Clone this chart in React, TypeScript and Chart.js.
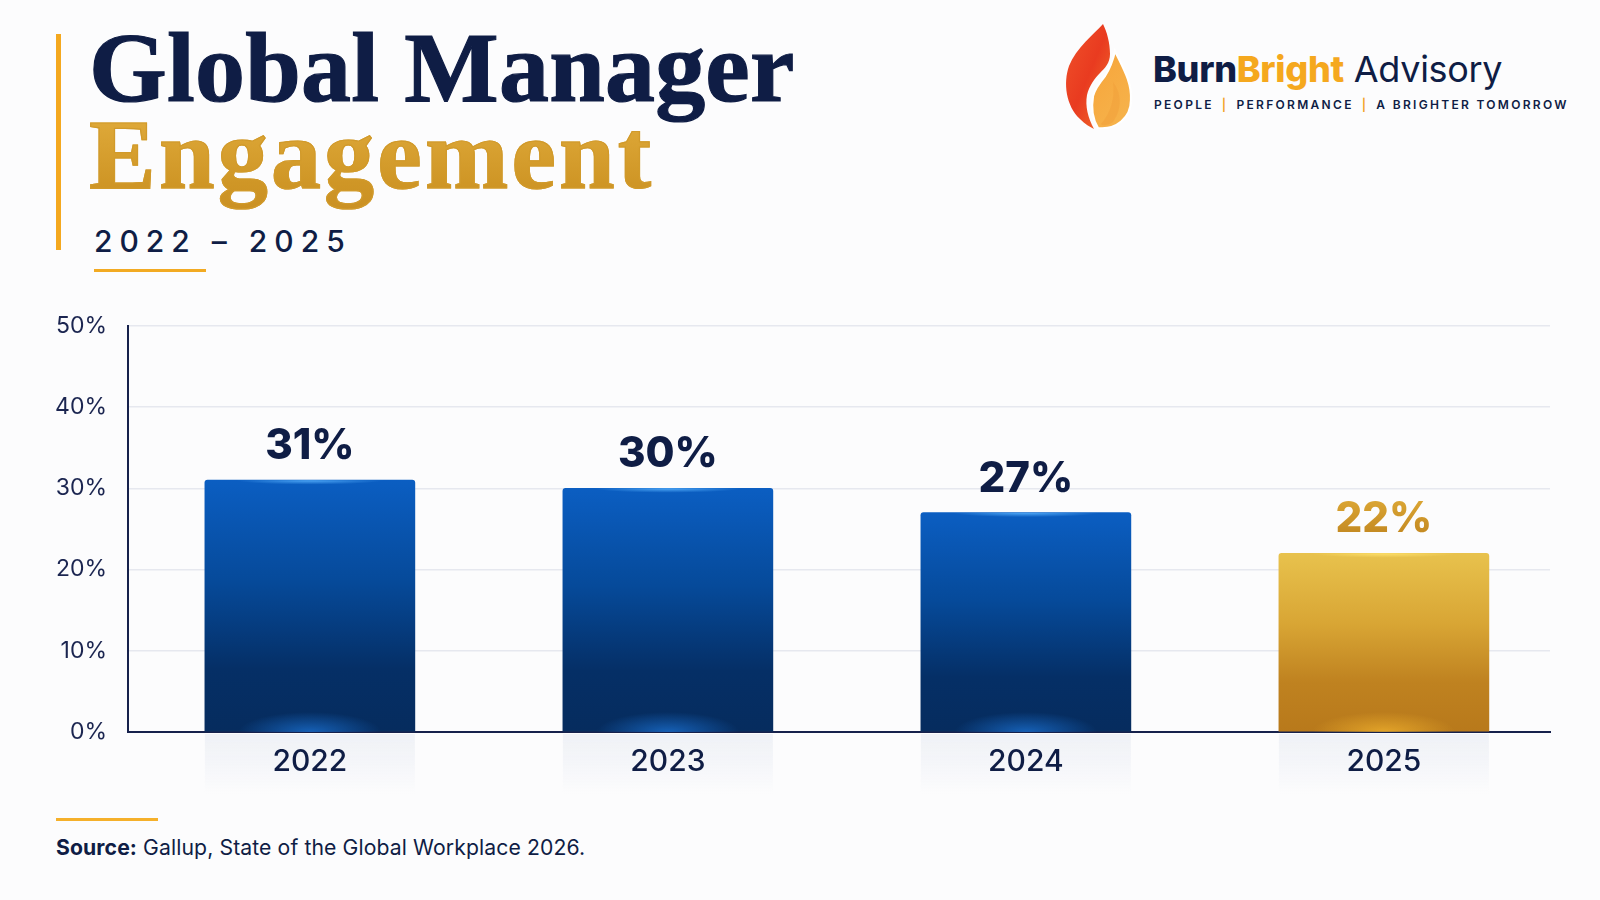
import React, { useEffect, useRef } from "react";
import { Chart, registerables } from "chart.js";

Chart.register(...registerables);

// ---- data ----
const categories = ["2022", "2023", "2024", "2025"];
const engagement = [31, 30, 27, 22];
const yTicks = [0, 10, 20, 30, 40, 50];
const highlightIndex = 3;

const NAVY = "#0f1d45";
const SANS = "Inter, 'Noto Sans', sans-serif";
const SERIF = "'Liberation Serif', 'Times New Roman', serif";

function barFill(c: any) {
  const chart = c.chart;
  const { chartArea, scales } = chart;
  if (!chartArea || !scales.y) return "#0a4fa8";
  const i = c.dataIndex;
  const top = scales.y.getPixelForValue(engagement[i]);
  const bottom = scales.y.getPixelForValue(0);
  const g = chart.ctx.createLinearGradient(0, top, 0, bottom);
  if (i === highlightIndex) {
    g.addColorStop(0, "#e8c24d");
    g.addColorStop(0.4, "#d8a534");
    g.addColorStop(0.72, "#bf8220");
    g.addColorStop(1, "#b8791b");
  } else {
    g.addColorStop(0, "#0b5ec2");
    g.addColorStop(0.4, "#064a9a");
    g.addColorStop(0.75, "#052f66");
    g.addColorStop(1, "#062c5e");
  }
  return g;
}

const barFx = {
  id: "barFx",
  beforeDraw(chart: any) {
    const meta = chart.getDatasetMeta(0);
    const ctx = chart.ctx;
    const base = chart.scales.y.getPixelForValue(0);
    ctx.save();
    meta.data.forEach((bar: any) => {
      const w = bar.width;
      const x0 = bar.x - w / 2;
      const g = ctx.createLinearGradient(0, base, 0, base + 62);
      g.addColorStop(0, "rgba(218,224,236,0.4)");
      g.addColorStop(1, "rgba(218,224,236,0)");
      ctx.fillStyle = g;
      ctx.fillRect(x0, base + 2, w, 62);
    });
    ctx.restore();
  },
  afterDatasetsDraw(chart: any) {
    const meta = chart.getDatasetMeta(0);
    const ctx = chart.ctx;
    const base = chart.scales.y.getPixelForValue(0);
    meta.data.forEach((bar: any, i: number) => {
      const w = bar.width;
      const x0 = bar.x - w / 2;
      const top = bar.y;
      const gold = i === highlightIndex;
      ctx.save();
      ctx.beginPath();
      ctx.rect(x0, top, w, base - top);
      ctx.clip();
      // bottom glow
      ctx.save();
      ctx.translate(bar.x, base);
      ctx.scale(1, 0.28);
      const rg = ctx.createRadialGradient(0, 0, 0, 0, 0, w * 0.34);
      rg.addColorStop(0, gold ? "rgba(255,192,50,0.6)" : "rgba(35,140,255,0.55)");
      rg.addColorStop(1, gold ? "rgba(255,192,50,0)" : "rgba(35,140,255,0)");
      ctx.fillStyle = rg;
      ctx.fillRect(-w, -w, 2 * w, 2 * w);
      ctx.restore();
      // top highlight
      ctx.save();
      ctx.translate(bar.x, top);
      ctx.scale(1, 0.06);
      const tg = ctx.createRadialGradient(0, 0, 0, 0, 0, w * 0.35);
      tg.addColorStop(0, gold ? "rgba(255,226,110,0.95)" : "rgba(90,180,255,0.9)");
      tg.addColorStop(1, gold ? "rgba(255,226,110,0)" : "rgba(90,180,255,0)");
      ctx.fillStyle = tg;
      ctx.fillRect(-w, -w, 2 * w, 2 * w);
      ctx.restore();
      ctx.restore();

      // value label
      ctx.save();
      ctx.font = `800 42px ${SANS}`;
      ctx.textAlign = "center";
      ctx.textBaseline = "alphabetic";
      if (gold) {
        const lg = ctx.createLinearGradient(0, top - 55, 0, top - 20);
        lg.addColorStop(0, "#dca735");
        lg.addColorStop(1, "#c48a22");
        ctx.fillStyle = lg;
      } else {
        ctx.fillStyle = NAVY;
      }
      ctx.fillText(`${engagement[i]}%`, bar.x, top - 21);
      ctx.restore();
    });
  },
};

function Flame() {
  return (
    <svg width={80} height={115} viewBox="0 0 80 115" style={{ position: "absolute", left: 1060, top: 20 }}>
      <defs>
        <linearGradient id="fr" x1="0" y1="0" x2="1" y2="1">
          <stop offset="0" stopColor="#f0522a" />
          <stop offset="0.5" stopColor="#e93b20" />
          <stop offset="1" stopColor="#f0702c" />
        </linearGradient>
        <linearGradient id="fo" x1="0" y1="0" x2="0.6" y2="1">
          <stop offset="0" stopColor="#f7a43a" />
          <stop offset="1" stopColor="#f6b24a" />
        </linearGradient>
      </defs>
      <path
        d="M43,4 C34,14 16,28 9,46 C3,63 6,86 20,99 C25,104 30,107 34,109 C28,98 25,86 27,75 C29,66 35,58 40,53 C45,48 50,43 50,34 C50,23 47,12 43,4 Z"
        fill="url(#fr)"
      />
      <path
        d="M55,31 C53,40 50,48 45,56 C40,62 35,68 33,76 C31,88 33,100 38,108 C56,110 71,98 71,80 C72,62 63,48 55,31 Z"
        fill="url(#fo)"
        stroke="#ffffff"
        strokeWidth={2.2}
      />
      <path d="M53,62 C61,72 63,88 53,102 C47,106 43,106 41,104 C51,92 55,78 53,62 Z" fill="#f09a36" opacity={0.4} />
    </svg>
  );
}

export default function App() {
  const ref = useRef<HTMLCanvasElement | null>(null);

  useEffect(() => {
    document.body.style.margin = "0";
    const canvas = ref.current;
    if (!canvas) return;
    const chart = new Chart(canvas, {
      type: "bar",
      data: {
        datasets: [
          {
            data: categories.map((_, i) => ({ x: i, y: engagement[i] })),
            backgroundColor: barFill,
            borderRadius: { topLeft: 3, topRight: 3, bottomLeft: 0, bottomRight: 0 },
            borderSkipped: "bottom",
            barThickness: 210,
          },
        ],
      },
      options: {
        animation: false,
        responsive: true,
        maintainAspectRatio: false,
        layout: { padding: { top: 0, right: 50, left: 0, bottom: 0 } },
        plugins: { legend: { display: false }, tooltip: { enabled: false } },
        scales: {
          x: {
            type: "linear",
            min: -0.508,
            max: 3.464,
            bounds: "data",
            offset: false,
            grid: { display: false, drawTicks: false, offset: false },
            border: { display: true, color: "#16214c", width: 2 },
            afterBuildTicks: (s: any) => {
              s.ticks = categories.map((_, i) => ({ value: i }));
            },
            ticks: {
              autoSkip: false,
              maxRotation: 0,
              padding: 12,
              color: NAVY,
              font: { family: SANS, size: 30, weight: "500" },
              callback: (v: any) => categories[Math.round(v)] ?? "",
            },
            afterFit: (s: any) => {
              s.height = 68;
            },
          },
          y: {
            min: yTicks[0],
            max: yTicks[yTicks.length - 1],
            grid: { color: "#e6e8ef", lineWidth: 1.5, drawTicks: false },
            border: { display: true, color: "#16214c", width: 2 },
            ticks: {
              stepSize: yTicks[1] - yTicks[0],
              padding: 21,
              color: "#1b2550",
              font: { family: SANS, size: 23, weight: "400" },
              callback: (v: any) => `${v}%`,
            },
            afterFit: (s: any) => {
              s.width = 128;
            },
          },
        },
      },
      plugins: [barFx],
    } as any);
    return () => chart.destroy();
  }, []);

  return (
    <div
      style={{
        position: "fixed",
        left: 0,
        top: 0,
        width: 1600,
        height: 900,
        overflow: "hidden",
        background: "#fcfcfd",
        fontFamily: SANS,
        color: NAVY,
      }}
    >
      {/* title accent bar */}
      <div style={{ position: "absolute", left: 56, top: 34, width: 5, height: 216, background: "#f4a81f" }} />
      <div
        style={{
          position: "absolute",
          left: 89,
          top: 18,
          fontFamily: SERIF,
          fontWeight: 700,
          fontSize: 100,
          lineHeight: 1,
          letterSpacing: 0.2,
          whiteSpace: "nowrap",
          color: NAVY,
          WebkitTextStroke: `1.2px ${NAVY}`,
        }}
      >
        Global Manager
      </div>
      <div
        style={{
          position: "absolute",
          left: 89,
          top: 105,
          fontFamily: SERIF,
          fontWeight: 700,
          fontSize: 100,
          lineHeight: 1,
          letterSpacing: 3.2,
          whiteSpace: "nowrap",
          background: "linear-gradient(180deg, #e2ad3d 0%, #cf9626 60%, #c68b20 100%)",
          WebkitBackgroundClip: "text",
          backgroundClip: "text",
          color: "transparent",
          WebkitTextStroke: "1.2px #d19a2b",
          paddingBottom: 30,
        }}
      >
        Engagement
      </div>
      <div
        style={{
          position: "absolute",
          left: 94,
          top: 226,
          fontSize: 30,
          fontWeight: 500,
          lineHeight: 1,
          letterSpacing: 7,
          whiteSpace: "nowrap",
          color: NAVY,
        }}
      >
        2022 – 2025
      </div>
      <div style={{ position: "absolute", left: 94, top: 269, width: 112, height: 3, background: "#f2aa22" }} />

      {/* logo */}
      <Flame />
      <div
        style={{
          position: "absolute",
          left: 1153,
          top: 51,
          fontSize: 36,
          lineHeight: 1,
          whiteSpace: "nowrap",
          letterSpacing: -0.3,
        }}
      >
        <span style={{ fontWeight: 800, color: NAVY }}>Burn</span>
        <span style={{ fontWeight: 800, color: "#f5a81e" }}>Bright</span>
        <span style={{ fontWeight: 400, color: NAVY }}> Advisory</span>
      </div>
      <div
        style={{
          position: "absolute",
          left: 1154,
          top: 99,
          fontSize: 12,
          fontWeight: 600,
          lineHeight: 1,
          letterSpacing: 2.3,
          whiteSpace: "pre",
          color: NAVY,
        }}
      >
        PEOPLE<span style={{ color: "#f2a31e", margin: "0 8px" }}>|</span>PERFORMANCE
        <span style={{ color: "#f2a31e", margin: "0 8px" }}>|</span>A BRIGHTER TOMORROW
      </div>

      {/* chart */}
      <div style={{ position: "absolute", left: 0, top: 291, width: 1600, height: 509 }}>
        <canvas ref={ref} />
      </div>

      {/* source */}
      <div style={{ position: "absolute", left: 56, top: 818, width: 102, height: 3, background: "#f5b02a" }} />
      <div
        style={{
          position: "absolute",
          left: 56,
          top: 837,
          fontSize: 21.2,
          lineHeight: 1,
          letterSpacing: 0.1,
          whiteSpace: "nowrap",
          color: NAVY,
        }}
      >
        <span style={{ fontWeight: 700 }}>Source:</span> Gallup, State of the Global Workplace 2026.
      </div>
    </div>
  );
}
